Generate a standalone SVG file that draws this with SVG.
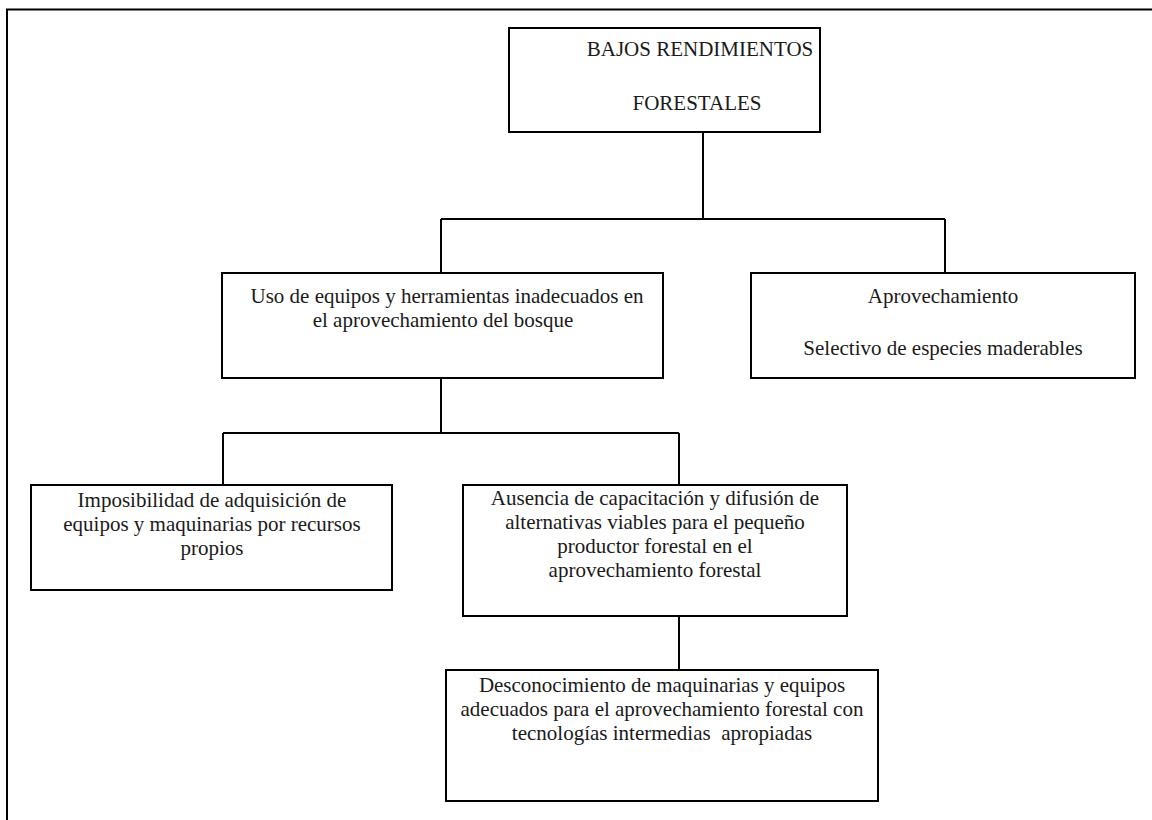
<svg xmlns="http://www.w3.org/2000/svg" width="1152" height="820" viewBox="0 0 1152 820">
<style>
.box{fill:#fff;stroke:#000;stroke-width:2}
.ln{fill:none;stroke:#000;stroke-width:2}
text{font-family:"Liberation Serif","Times New Roman",serif;font-size:21px;fill:#1a1a1a;text-anchor:middle}
</style>
<rect width="1152" height="820" fill="#fff"/>
<path class="ln" d="M7,820 V9.5 H1152"/>
<g id="connectors">
<path class="ln" d="M703,132 V219 M441,219 H945 M441,219 V273 M945,219 V273"/>
<path class="ln" d="M441,378 V433 M223,433 H679 M223,433 V485 M679,433 V485"/>
<path class="ln" d="M679,616 V670"/>
</g>
<g id="n1">
<rect class="box" x="509" y="28" width="311" height="104"/>
<text x="700" y="56">BAJOS RENDIMIENTOS</text>
<text x="697" y="110">FORESTALES</text>
</g>
<g id="n2">
<rect class="box" x="222" y="273" width="441" height="105"/>
<text x="447" y="303">Uso de equipos y herramientas inadecuados en</text>
<text x="443" y="327">el aprovechamiento del bosque</text>
</g>
<g id="n3">
<rect class="box" x="751" y="273" width="384" height="105"/>
<text x="943" y="303">Aprovechamiento</text>
<text x="943" y="355">Selectivo de especies maderables</text>
</g>
<g id="n4">
<rect class="box" x="31" y="485" width="361" height="105"/>
<text x="212" y="507">Imposibilidad de adquisición de</text>
<text x="212" y="531">equipos y maquinarias por recursos</text>
<text x="212" y="555">propios</text>
</g>
<g id="n5">
<rect class="box" x="463" y="485" width="384" height="131"/>
<text x="655" y="505">Ausencia de capacitación y difusión de</text>
<text x="655" y="529">alternativas viables para el pequeño</text>
<text x="655" y="553">productor forestal en el</text>
<text x="655" y="577">aprovechamiento forestal</text>
</g>
<g id="n6">
<rect class="box" x="446" y="670" width="432" height="131"/>
<text x="662" y="692">Desconocimiento de maquinarias y equipos</text>
<text x="662" y="716">adecuados para el aprovechamiento forestal con</text>
<text x="662" y="740" xml:space="preserve">tecnologías intermedias  apropiadas</text>
</g>
</svg>
